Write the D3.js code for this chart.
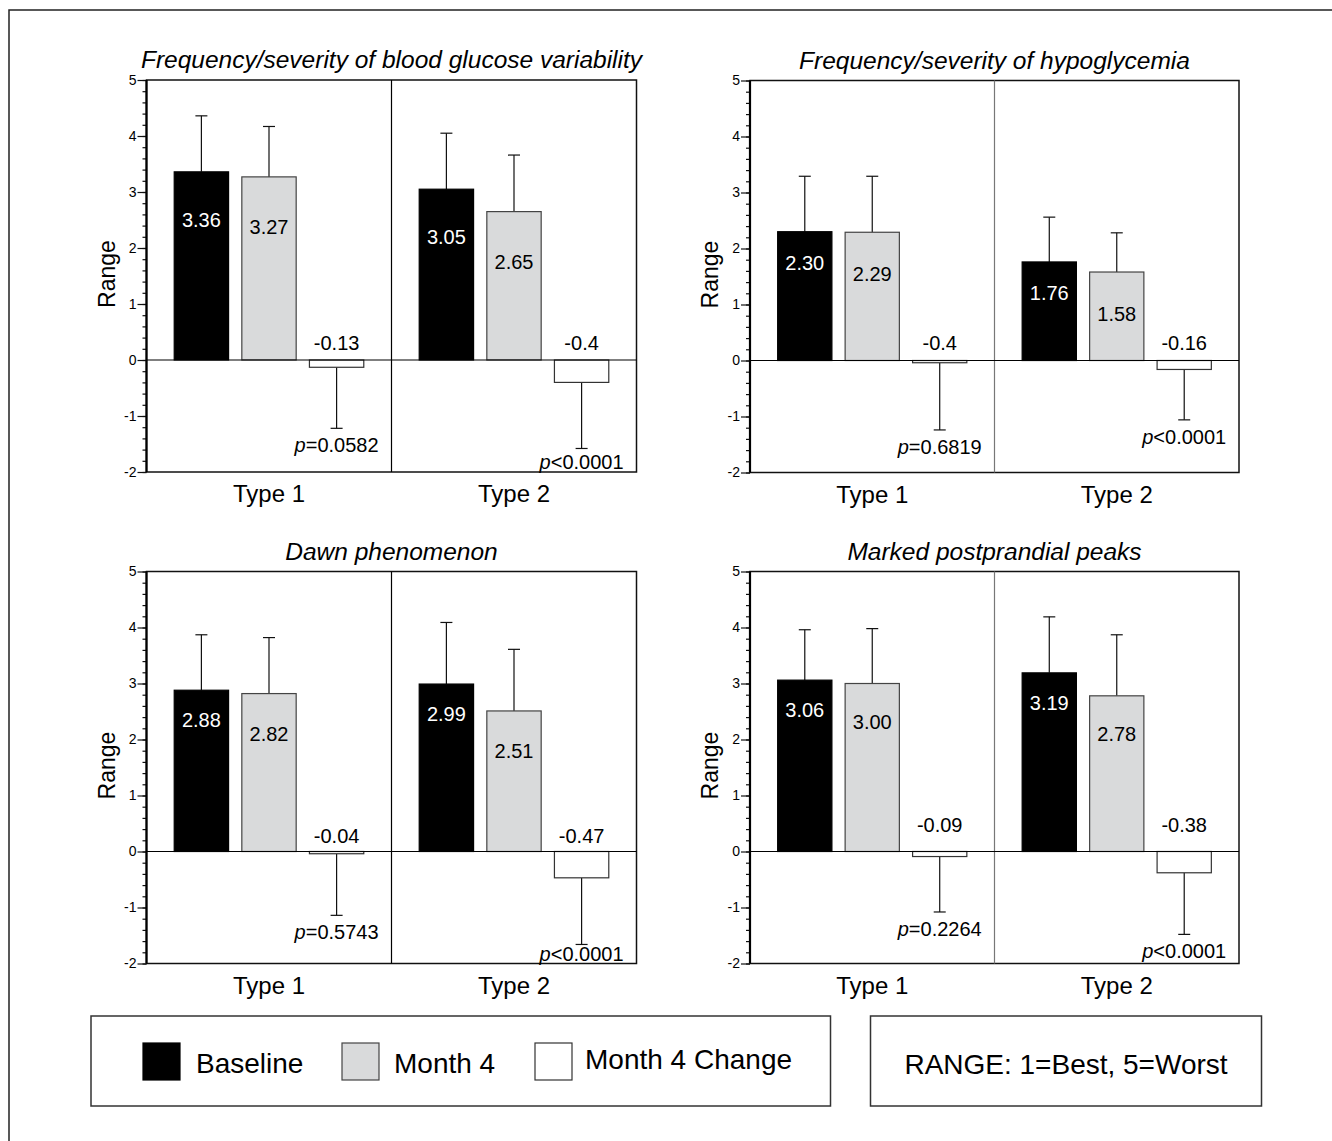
<!DOCTYPE html>
<html>
<head>
<meta charset="utf-8">
<script src="https://cdn.jsdelivr.net/npm/d3@7"></script>
<style>
  body { margin: 0; background: #fff; }
  svg { display: block; }
  text { font-family: "Liberation Sans", Arial, Helvetica, sans-serif; fill: #000; }
  .tick text { font-size: 14px; }
</style>
</head>
<body>
<svg width="1332" height="1141"></svg>
<script>
// data
var titles = ["Frequency/severity of blood glucose variability", "Frequency/severity of hypoglycemia",
              "Dawn phenomenon", "Marked postprandial peaks"];
var groups = ["Type 1", "Type 2"];
var series = ["Baseline", "Month 4", "Month 4 Change"];
var yTicks = [-2, -1, 0, 1, 2, 3, 4, 5];

var baselineMean = [[3.36, 3.05], [2.30, 1.76], [2.88, 2.99], [3.06, 3.19]];
var month4Mean   = [[3.27, 2.65], [2.29, 1.58], [2.82, 2.51], [3.00, 2.78]];
var changeMean   = [[-0.13, -0.40], [-0.04, -0.16], [-0.04, -0.47], [-0.09, -0.38]];
var baselineSD   = [[1.00, 1.00], [0.99, 0.80], [0.99, 1.10], [0.90, 1.00]];
var month4SD     = [[0.90, 1.01], [1.00, 0.70], [1.00, 1.10], [0.98, 1.09]];
var changeSD     = [[1.09, 1.18], [1.20, 0.90], [1.10, 1.19], [0.99, 1.10]];
var changeLabels = [["-0.13", "-0.4"], ["-0.4", "-0.16"], ["-0.04", "-0.47"], ["-0.09", "-0.38"]];
var pValues      = [["=0.0582", "<0.0001"], ["=0.6819", "<0.0001"], ["=0.5743", "<0.0001"], ["=0.2264", "<0.0001"]];

var fills = ["#000", "#d9dadb", "#fff"];
var strokes = ["#000", "#444", "#333"];

var svg = d3.select("svg");

// outer border (runs off the right and bottom edges)
svg.append("path")
  .attr("d", "M9,1141V10H1332")
  .attr("fill", "none").attr("stroke", "#222").attr("stroke-width", 1.5);

var panels = [
  {x0: 146.5, x1: 636.5, y0: 80,    y1: 472,   div: "#000", drop: [48, 50], lift: 17},
  {x0: 750,   x1: 1239,  y0: 80.5,  y1: 472.5, div: "#777", drop: [31, 42], lift: 17.5},
  {x0: 146.5, x1: 636.5, y0: 571.5, y1: 963.5, div: "#000", drop: [30, 40], lift: 16},
  {x0: 750,   x1: 1239,  y0: 571.5, y1: 963.5, div: "#777", drop: [30, 38], lift: 27}
];

panels.forEach(function (p, i) {
  var y = d3.scaleLinear().domain([-2, 5]).range([p.y1, p.y0]);
  var gx = d3.scaleBand().domain(groups).range([p.x0, p.x1]);
  var sx = d3.scaleBand().domain(series).range([0, gx.bandwidth()])
    .paddingInner(0.196).paddingOuter(0.41);

  var rows = [];
  groups.forEach(function (g, gi) {
    rows.push({g: g, s: 0, mean: baselineMean[i][gi], sd: baselineSD[i][gi]});
    rows.push({g: g, s: 1, mean: month4Mean[i][gi], sd: month4SD[i][gi]});
    rows.push({g: g, s: 2, mean: changeMean[i][gi], sd: changeSD[i][gi],
               label: changeLabels[i][gi], p: pValues[i][gi]});
  });
  rows.forEach(function (d) {
    d.x = gx(d.g) + sx(series[d.s]);
    d.cx = d.x + sx.bandwidth() / 2;
    d.end = d.mean >= 0 ? d.mean + d.sd : d.mean - d.sd;
  });

  var g = svg.append("g");

  // title
  g.append("text")
    .attr("x", (p.x0 + p.x1) / 2).attr("y", p.y0 - 12)
    .attr("text-anchor", "middle").attr("font-size", 24.5).attr("font-style", "italic")
    .text(titles[i]);

  // y label
  g.append("text")
    .attr("transform", "translate(" + (p.x0 - 32) + "," + ((p.y0 + p.y1) / 2 - 2) + ") rotate(-90)")
    .attr("text-anchor", "middle").attr("font-size", 23)
    .text("Range");

  // error bars
  g.selectAll(".err").data(rows).enter().append("line")
    .attr("x1", function (d) { return d.cx; }).attr("x2", function (d) { return d.cx; })
    .attr("y1", function (d) { return y(d.mean); })
    .attr("y2", function (d) { return y(d.end); })
    .attr("stroke", "#111").attr("stroke-width", 1.2);
  g.selectAll(".cap").data(rows).enter().append("line")
    .attr("x1", function (d) { return d.cx - 6; }).attr("x2", function (d) { return d.cx + 6; })
    .attr("y1", function (d) { return y(d.end); }).attr("y2", function (d) { return y(d.end); })
    .attr("stroke", "#111").attr("stroke-width", 1.2);

  // bars
  g.selectAll(".bar").data(rows).enter().append("rect")
    .attr("x", function (d) { return d.x; })
    .attr("y", function (d) { return y(Math.max(0, d.mean)); })
    .attr("width", sx.bandwidth())
    .attr("height", function (d) { return Math.abs(y(d.mean) - y(0)); })
    .attr("fill", function (d) { return fills[d.s]; })
    .attr("stroke", function (d) { return strokes[d.s]; })
    .attr("stroke-width", 1.2);

  // frame, divider, zero line
  g.append("rect")
    .attr("x", p.x0).attr("y", p.y0).attr("width", p.x1 - p.x0).attr("height", p.y1 - p.y0)
    .attr("fill", "none").attr("stroke", "#111").attr("stroke-width", 1.5);
  g.append("line")
    .attr("x1", gx("Type 2")).attr("x2", gx("Type 2")).attr("y1", p.y0).attr("y2", p.y1)
    .attr("stroke", p.div).attr("stroke-width", 1.2);
  g.append("line")
    .attr("x1", p.x0).attr("x2", p.x1).attr("y1", y(0)).attr("y2", y(0))
    .attr("stroke", "#000").attr("stroke-width", 1.2);

  // axis with major and minor ticks
  var major = d3.axisLeft(y).tickValues(yTicks).tickSize(9).tickPadding(1).tickFormat(String);
  var minor = d3.axisLeft(y).tickValues(d3.range(-2, 5.001, 0.2)).tickSize(4).tickFormat("");
  var ax = g.append("g").attr("transform", "translate(" + p.x0 + ",0)");
  ax.append("g").call(minor);
  ax.append("g").call(major).attr("font-size", 14);
  ax.selectAll(".domain").remove();
  ax.selectAll("line").attr("stroke", "#111").attr("stroke-width", 1.2);
  ax.selectAll("text").style("font-size", "14px").style("fill", "#000");
  ax.append("line").attr("x1", 0).attr("x2", 0).attr("y1", p.y0).attr("y2", p.y1)
    .attr("stroke", "#000").attr("stroke-width", 2.2);

  // value labels inside bars
  g.selectAll(".val").data(rows.filter(function (d) { return d.s < 2; })).enter().append("text")
    .attr("x", function (d) { return d.cx; })
    .attr("y", function (d) { return y(d.mean) + p.drop[d.s] + 7; })
    .attr("text-anchor", "middle").attr("font-size", 20)
    .style("fill", function (d) { return d.s === 0 ? "#fff" : "#000"; })
    .text(function (d) { return d3.format(".2f")(d.mean); });

  var ch = rows.filter(function (d) { return d.s === 2; });
  // change labels above zero
  g.selectAll(".chg").data(ch).enter().append("text")
    .attr("x", function (d) { return d.cx; })
    .attr("y", y(0) - p.lift + 7)
    .attr("text-anchor", "middle").attr("font-size", 20)
    .text(function (d) { return d.label; });

  // p values below the error bars
  var pt = g.selectAll(".pv").data(ch).enter().append("text")
    .attr("x", function (d) { return d.cx; })
    .attr("y", function (d) { return Math.min(y(d.end) + 17, p.y1 - 10) + 7; })
    .attr("text-anchor", "middle").attr("font-size", 20);
  pt.append("tspan").attr("font-style", "italic").text("p");
  pt.append("tspan").text(function (d) { return d.p; });

  // category labels
  g.selectAll(".cat").data(groups).enter().append("text")
    .attr("x", function (d) { return gx(d) + gx.bandwidth() / 2; })
    .attr("y", p.y1 + 30)
    .attr("text-anchor", "middle").attr("font-size", 24)
    .text(function (d) { return d; });
});

// legend
svg.append("rect").attr("x", 91).attr("y", 1016).attr("width", 739.5).attr("height", 90)
  .attr("fill", "#fff").attr("stroke", "#333").attr("stroke-width", 1.5);
svg.append("rect").attr("x", 870.5).attr("y", 1016).attr("width", 391).attr("height", 90)
  .attr("fill", "#fff").attr("stroke", "#333").attr("stroke-width", 1.5);

var swatchX = [143, 342, 535];
var labelX = [196, 394, 585];
var labelY = [1073, 1073, 1069];
var leg = svg.selectAll(".leg").data(series).enter().append("g");
leg.append("rect")
  .attr("x", function (d, i) { return swatchX[i]; }).attr("y", 1043)
  .attr("width", 37).attr("height", 37)
  .attr("fill", function (d, i) { return fills[i]; })
  .attr("stroke", function (d, i) { return strokes[i]; }).attr("stroke-width", 1.2);
leg.append("text")
  .attr("x", function (d, i) { return labelX[i]; })
  .attr("y", function (d, i) { return labelY[i]; })
  .attr("font-size", 28)
  .text(function (d) { return d; });

svg.append("text").attr("x", 1066).attr("y", 1074)
  .attr("text-anchor", "middle").attr("font-size", 28)
  .text("RANGE: 1=Best, 5=Worst");
</script>
</body>
</html>
